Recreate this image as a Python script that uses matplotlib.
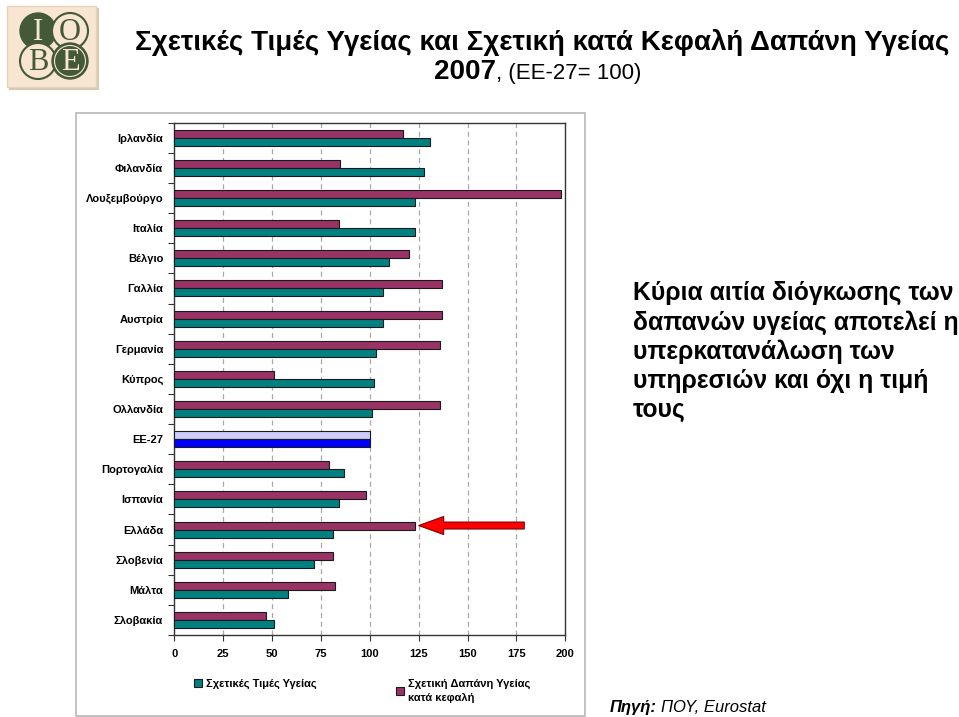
import matplotlib
matplotlib.use("Agg")
import matplotlib.pyplot as plt
from matplotlib.patches import Rectangle, Circle
import numpy as np

plt.rcParams['font.family'] = ['Liberation Sans', 'DejaVu Sans']

# Data, top to bottom
countries = ['Ιρλανδία', 'Φιλανδία', 'Λουξεμβούργο', 'Ιταλία', 'Βέλγιο', 'Γαλλία',
             'Αυστρία', 'Γερμανία', 'Κύπρος', 'Ολλανδία', 'ΕΕ-27', 'Πορτογαλία',
             'Ισπανία', 'Ελλάδα', 'Σλοβενία', 'Μάλτα', 'Σλοβακία']
spending = [117, 85, 198, 84, 120, 137, 137, 136, 51, 136, 100, 79, 98, 123, 81, 82, 47]
prices = [131, 127.5, 123, 123, 110, 107, 107, 103, 102, 101, 100, 87, 84, 81, 71.5, 58, 51]
xticks = [0, 25, 50, 75, 100, 125, 150, 175, 200]

label_prices = 'Σχετικές Τιμές Υγείας'
label_spend = 'Σχετική Δαπάνη Υγείας\nκατά κεφαλή'

W, H = 959, 717
fig = plt.figure(figsize=(W / 100, H / 100), dpi=100)

# outer chart frame
fig.add_artist(Rectangle((76 / W, 1 - 716 / H), 509 / W, 603 / H, transform=fig.transFigure,
                         fill=False, ec='#b8b8b8', lw=1.2))

ax = fig.add_axes([174.3 / W, 1 - 635 / H, 391 / W, 512.3 / H])

y = np.arange(len(countries))
h = 0.265
spend_colors = ['#993366'] * len(countries)
price_colors = ['#008080'] * len(countries)
eu = countries.index('ΕΕ-27')
spend_colors[eu] = '#ccccff'
price_colors[eu] = '#0000ff'

b_spend = ax.barh(y - h / 2, spending, height=h, color=spend_colors, edgecolor='#1a1a1a',
                  lw=0.8, label=label_spend, zorder=3)
b_price = ax.barh(y + h / 2, prices, height=h, color=price_colors, edgecolor='#1a1a1a',
                  lw=0.8, label=label_prices, zorder=3)

ax.set_xlim(0, 200)
ax.set_ylim(len(countries) - 0.5, -0.5)
ax.set_xticks(xticks)
ax.set_xticklabels([str(t) for t in xticks], fontsize=8, fontweight='bold')
ax.set_yticks(y)
ax.set_yticklabels(countries, fontsize=8, fontweight='bold')
ax.set_yticks(np.arange(len(countries) + 1) - 0.5, minor=True)
ax.tick_params(axis='y', which='major', length=0, pad=8)
ax.tick_params(axis='y', which='minor', length=4, width=0.8, color='#333333')
ax.tick_params(axis='x', length=4, width=0.8, pad=6, color='#333333')
for t in xticks[1:-1]:
    ax.axvline(t, color='#a8a8a8', lw=0.9, ls=(0, (4, 3)), zorder=1)
for s in ax.spines.values():
    s.set_color('#333333')
    s.set_linewidth(1.0)

# arrow pointing at Greece
gr = countries.index('Ελλάδα')
ax.annotate('', xy=(spending[gr] + 2, gr - h / 2), xytext=(179, gr - h / 2),
            arrowprops=dict(arrowstyle='simple,head_length=18,head_width=13,tail_width=5',
                            fc='#ff0000', ec='#800000', lw=0.8, mutation_scale=1,
                            shrinkA=0, shrinkB=0), zorder=5)

# legend: two entries, tops aligned
leg_kw = dict(loc='upper left', frameon=False, prop={'size': 8, 'weight': 'bold'},
              handlelength=0.7, handleheight=0.7, handletextpad=0.4,
              borderpad=0, borderaxespad=0)
leg1 = fig.legend([b_price], [label_prices], bbox_to_anchor=(194 / W, 1 - 679 / H), **leg_kw)
leg2 = fig.legend([b_spend], [label_spend], bbox_to_anchor=(396 / W, 1 - 679 / H), **leg_kw)
leg2.get_texts()[0].set_linespacing(1.5)

# title
fig.text(542 / W, 1 - 50 / H, 'Σχετικές Τιμές Υγείας και Σχετική κατά Κεφαλή Δαπάνη Υγείας',
         ha='center', va='baseline', fontsize=20, fontweight='bold',
         family=['Liberation Sans Narrow', 'Liberation Sans'])
fig.text(496 / W, 1 - 79 / H, '2007', ha='right', va='baseline', fontsize=20, fontweight='bold',
         family=['Liberation Sans Narrow', 'Liberation Sans'])
fig.text(496 / W, 1 - 79 / H, ', (ΕΕ-27= 100)', ha='left', va='baseline', fontsize=16,
         family=['Liberation Sans Narrow', 'Liberation Sans'])

# side note
fig.text(633 / W, 1 - 281 / H,
         'Κύρια αιτία διόγκωσης των\nδαπανών υγείας αποτελεί η\nυπερκατανάλωση των\n'
         'υπηρεσιών και όχι η τιμή\nτους',
         ha='left', va='top', fontsize=17.8, fontweight='bold', linespacing=1.26)

# source
fig.text(610 / W, 1 - 712 / H, 'Πηγή:', ha='left', va='baseline', fontsize=12,
         fontweight='bold', style='italic')
fig.text(661 / W, 1 - 712 / H, 'ΠΟΥ, Eurostat', ha='left', va='baseline', fontsize=12,
         style='italic')

# logo
lg = fig.add_axes([5 / W, 1 - 90 / H, 95 / W, 85 / H])
lg.set_xlim(0, 95)
lg.set_ylim(85, 0)
lg.axis('off')
lg.add_patch(Rectangle((4, 3), 90, 82, fc='#d9c7b0', ec='none'))
lg.add_patch(Rectangle((2, 1), 89, 81, fc='#f8e6d2', ec='#e8d2ba', lw=1))
green = '#445a36'
beige = '#f8e6d2'
lg.add_patch(Circle((33, 26), 18, fc=green, ec=green, lw=1))
lg.add_patch(Circle((65, 26), 18, fc=beige, ec=green, lw=1.5))
lg.add_patch(Circle((33, 56), 18, fc=beige, ec=green, lw=1.5))
lg.add_patch(Circle((65, 56), 18, fc=green, ec=green, lw=1))
lg.add_patch(Circle((65, 56), 15.5, fill=False, ec=beige, lw=0.8))
for (cx, cy, ch, col) in [(33, 26, 'I', beige), (65, 26, 'O', green),
                          (33, 56, 'B', green), (65, 56, 'E', beige)]:
    lg.text(cx, cy + 1, ch, ha='center', va='center', fontsize=22, color=col,
            family=['Liberation Serif', 'DejaVu Serif'])

fig.savefig('out.png', dpi=100)
